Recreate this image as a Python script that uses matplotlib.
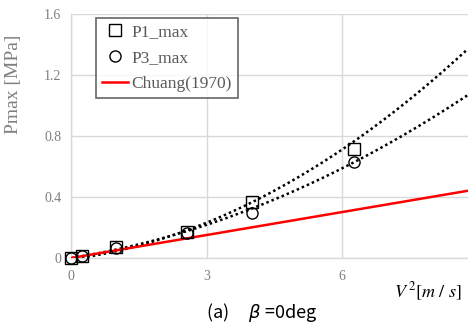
import numpy as np
import matplotlib
matplotlib.use("Agg")
import matplotlib.pyplot as plt
from matplotlib.lines import Line2D

# Data
v2 = [0.0, 0.25, 1.0, 2.56, 4.0, 6.25]
p1_max = [0.0, 0.01, 0.075, 0.17, 0.37, 0.715]
p3_max = [0.0, 0.01, 0.065, 0.165, 0.295, 0.63]
# Trendline values
trend_x = [0.0, 2.0, 4.0, 6.0, 8.78]
trend_p1 = [0.0, 0.104, 0.375, 0.718, 1.368]
trend_p3 = [0.0, 0.128, 0.324, 0.589, 1.069]
chuang_x = [0.0, 8.78]
chuang_y = [0.0, 0.441]
x_ticks = [0, 3, 6]
y_ticks = [0, 0.4, 0.8, 1.2, 1.6]
y_tick_labels = ["0", "0.4", "0.8", "1.2", "1.6"]

fig = plt.figure(figsize=(4.68, 3.25), dpi=100)
ax = fig.add_axes([71/468, 67/325, 397/468, 244/325])

grid_c = "#d9d9d9"
tick_c = "#7f7f7f"
serif = "Liberation Serif"

ax.set_xlim(0, 8.78)
ax.set_ylim(0, 1.6)
ax.set_xticks(x_ticks)
ax.set_yticks(y_ticks)
ax.set_yticklabels(y_tick_labels)
ax.grid(True, color=grid_c, linewidth=1.0)
ax.set_axisbelow(True)
for s in ["top", "right"]:
    ax.spines[s].set_visible(False)
for s in ["left", "bottom"]:
    ax.spines[s].set_color(grid_c)
    ax.spines[s].set_linewidth(1.0)
ax.tick_params(length=0, labelsize=10, labelcolor=tick_c)
ax.tick_params(axis="y", pad=7)
ax.tick_params(axis="x", pad=9)
for lab in ax.get_xticklabels() + ax.get_yticklabels():
    lab.set_fontfamily(serif)

# Trendlines (smooth 2nd-order curves through the read values)
xx = np.linspace(0, 8.78, 200)
for ty in (trend_p1, trend_p3):
    c = np.polyfit(trend_x, ty, 2)
    ax.plot(xx, np.polyval(c, xx), color="black", linestyle=(0, (1, 1.2)),
            linewidth=1.8, zorder=2)

ax.plot(chuang_x, chuang_y, color="#ff0000", linewidth=1.8, zorder=3)
ax.plot(v2, p1_max, linestyle="none", marker="s", markersize=8, clip_on=False,
        markerfacecolor="none", markeredgecolor="black", markeredgewidth=1.0, zorder=4)
ax.plot(v2, p3_max, linestyle="none", marker="o", markersize=8, clip_on=False,
        markerfacecolor="none", markeredgecolor="black", markeredgewidth=1.0, zorder=4)

ax.set_ylabel("Pmax [MPa]", fontfamily=serif, fontsize=14, color=tick_c)
ax.yaxis.set_label_coords(-0.123, 0.713)

handles = [
    Line2D([], [], linestyle="none", marker="s", markersize=8, markerfacecolor="none",
           markeredgecolor="black"),
    Line2D([], [], linestyle="none", marker="o", markersize=8, markerfacecolor="none",
           markeredgecolor="black"),
    Line2D([], [], color="#ff0000", linewidth=1.8),
]
leg = ax.legend(handles, ["P1_max", "P3_max", "Chuang(1970)"],
                loc="upper left", bbox_to_anchor=(25/397, 1 - 4/244),
                prop={"family": serif, "size": 12.5}, frameon=True, fancybox=False,
                handlelength=1.5, handletextpad=0.2, borderpad=0.35,
                labelspacing=0.55, borderaxespad=0)
leg.get_frame().set_edgecolor("#404040")
leg.get_frame().set_linewidth(1.2)
for t in leg.get_texts():
    t.set_color("#595959")

fig.text(462/468, 1 - 292/325, r"$V^{\,2}[m\ /\ s]$", ha="right", va="center",
         fontsize=13, color="black", math_fontfamily="stix")
fig.text(262/468, 1 - 312/325, "(a)     $\\beta$ =0deg", ha="center", va="center",
         fontsize=13, color="black", fontfamily="Noto Sans CJK JP")

fig.savefig("out.png", dpi=100)
